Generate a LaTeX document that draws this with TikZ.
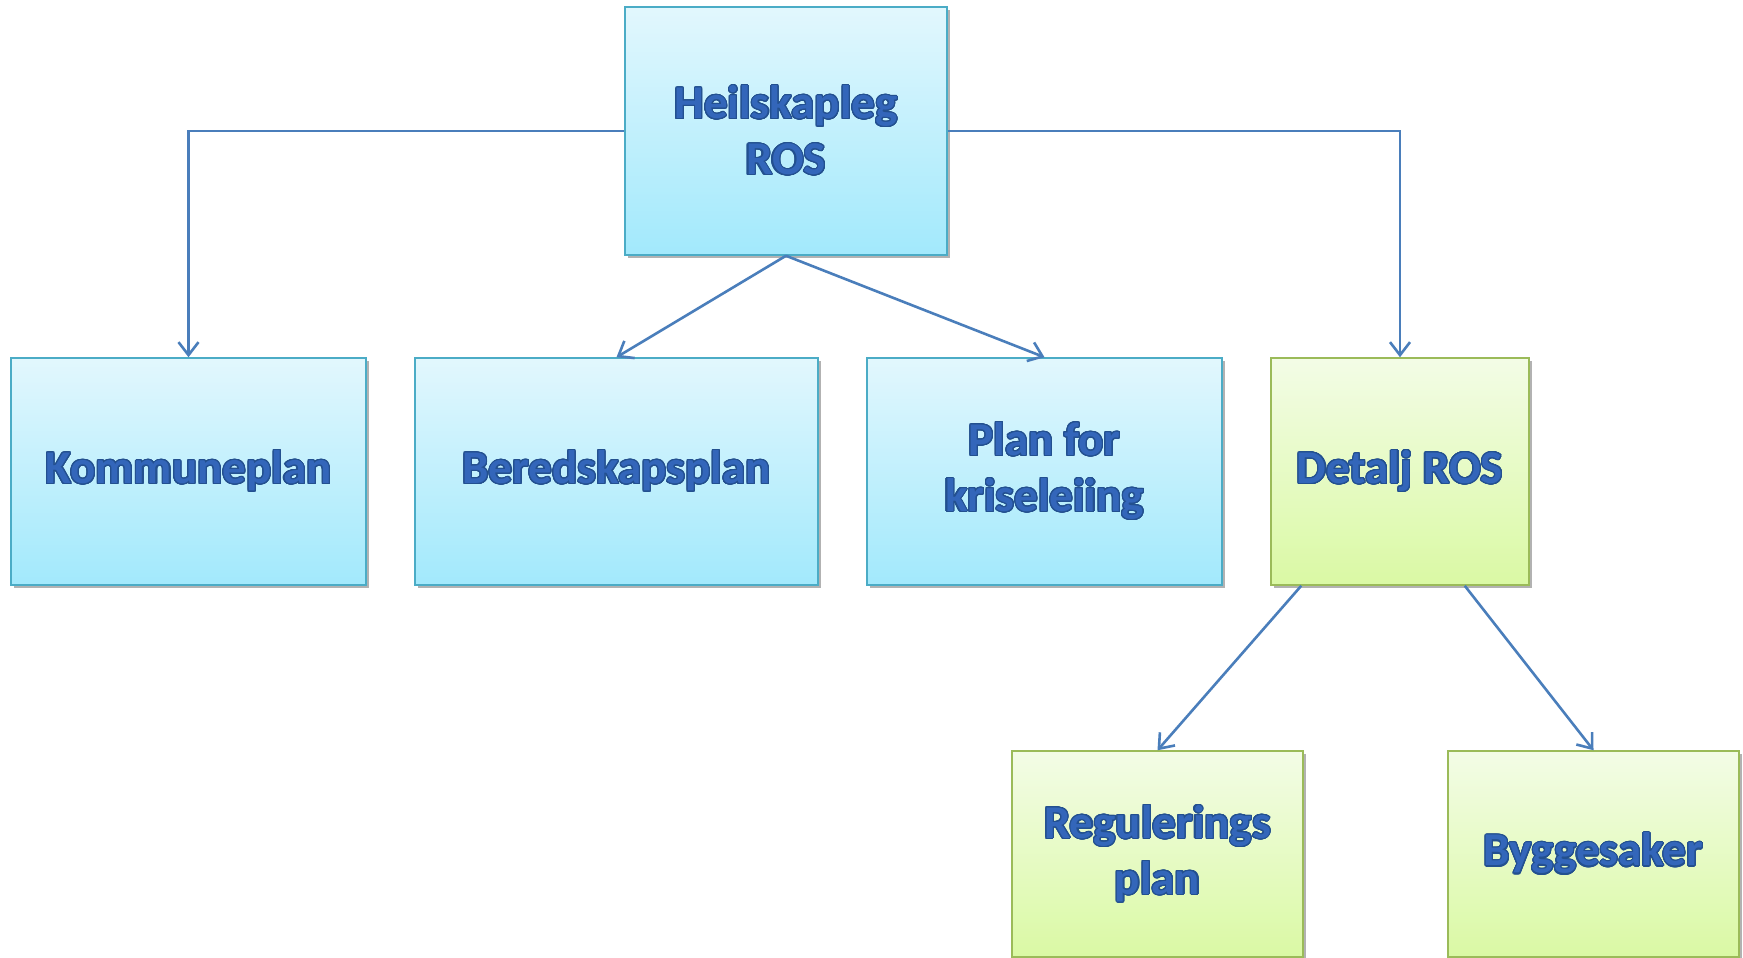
\documentclass[tikz,border=0pt]{standalone}
\usepackage{fontspec}
\setmainfont{Carlito}
\usepackage{contour}
\contourlength{1.1pt}
\contournumber{24}
\usetikzlibrary{arrows.meta,shadows}
\definecolor{txtblue}{HTML}{3366BA}
\definecolor{txtedge}{HTML}{23508F}
\definecolor{lineblue}{HTML}{4A7EBB}
\definecolor{bluetop}{HTML}{E2F7FD}
\definecolor{bluebot}{HTML}{A2E9FC}
\definecolor{blueedge}{HTML}{4BACC6}
\definecolor{greentop}{HTML}{F3FCE6}
\definecolor{greenbot}{HTML}{DAF9A4}
\definecolor{greenedge}{HTML}{9BBB59}
\newcommand{\lbl}[1]{\contour{txtedge}{#1}}
\tikzset{
  box/.style={rectangle, inner sep=0pt, align=center, line width=1.5pt,
    font=\fontsize{47}{56}\selectfont\bfseries, text=txtblue,
    drop shadow={shadow xshift=3pt, shadow yshift=-3pt, opacity=0.3, fill=black}},
  bluebox/.style={box, draw=blueedge, shading=axis, top color=bluetop, bottom color=bluebot},
  greenbox/.style={box, draw=greenedge, shading=axis, top color=greentop, bottom color=greenbot},
  conn/.style={draw=lineblue, line width=2.6pt, -{Straight Barb[length=13pt,width=20pt,line width=2.6pt]}}
}
\begin{document}
\begin{tikzpicture}[x=1pt,y=-1pt]
\useasboundingbox (0,0) rectangle (1743,958);
\node[bluebox, minimum width=322pt, minimum height=248pt] (top) at (786,131) {\lbl{Heilskapleg}\\\lbl{ROS}};
\node[bluebox, minimum width=355pt, minimum height=227pt] (komm) at (188.5,471.5) {\lbl{Kommuneplan}};
\node[bluebox, minimum width=403pt, minimum height=227pt] (bered) at (616.5,471.5) {\lbl{Beredskapsplan}};
\node[bluebox, minimum width=355pt, minimum height=227pt] (plan) at (1044.5,471.5) {\lbl{Plan for}\\\lbl{kriseleiing}};
\node[greenbox, minimum width=258pt, minimum height=227pt] (detalj) at (1400,471.5) {\lbl{Detalj ROS}};
\node[greenbox, minimum width=291pt, minimum height=206pt] (reg) at (1157.5,854) {\lbl{Regulerings}\\\lbl{plan}};
\node[greenbox, minimum width=291pt, minimum height=206pt] (bygg) at (1593.5,854) {\lbl{Byggesaker}};
\coordinate (dl) at ([xshift=31pt]detalj.south west);
\coordinate (dr) at ([xshift=-65pt]detalj.south east);
\draw[conn] (top.west) -| (komm.north);
\draw[conn] (top.east) -| (detalj.north);
\draw[conn] (top.south) -- (bered.north);
\draw[conn] (top.south) -- (plan.north);
\draw[conn] (dl) -- (reg.north);
\draw[conn] (dr) -- (bygg.north);
\end{tikzpicture}
\end{document}
